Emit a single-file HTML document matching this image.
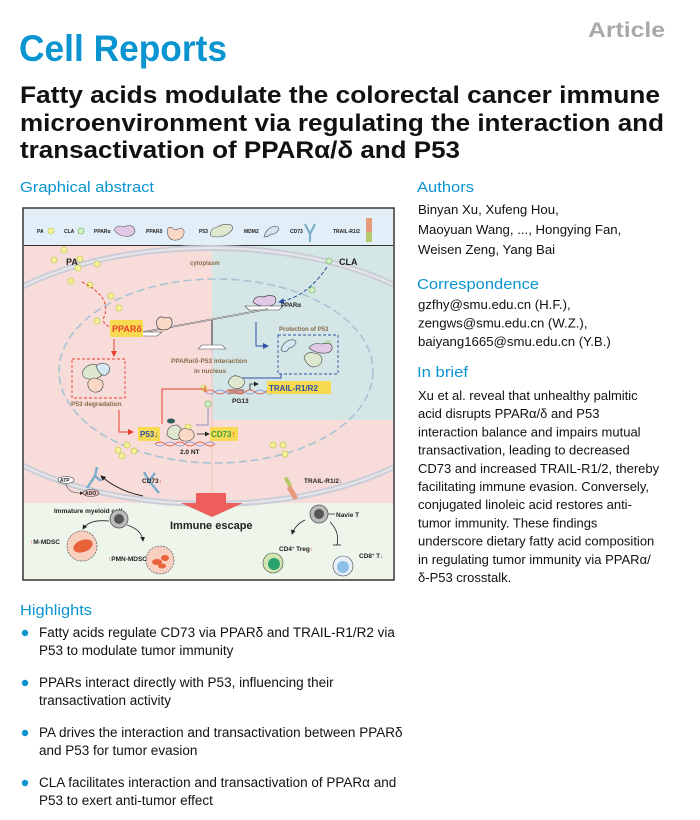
<!DOCTYPE html>
<html><head><meta charset="utf-8"><style>
html,body{margin:0;padding:0;background:#fff;}
svg{display:block;font-family:"Liberation Sans",Arial,sans-serif;}
</style></head><body>
<svg width="700" height="820" viewBox="0 0 700 820" xmlns="http://www.w3.org/2000/svg">
<defs>
<clipPath id="ga"><rect x="24" y="209" width="369" height="370"/></clipPath>
<marker id="ar" markerWidth="6" markerHeight="6" refX="5" refY="3" orient="auto"><path d="M0,0 L6,3 L0,6 z" fill="#e8402c"/></marker>
<marker id="ab" markerWidth="6" markerHeight="6" refX="5" refY="3" orient="auto"><path d="M0,0 L6,3 L0,6 z" fill="#2d4fa8"/></marker>
<marker id="ak" markerWidth="6" markerHeight="6" refX="5" refY="3" orient="auto"><path d="M0,0 L6,3 L0,6 z" fill="#222"/></marker>
</defs>

<text x="19" y="61" font-size="37" font-weight="bold" fill="#0a94d0" textLength="208" lengthAdjust="spacingAndGlyphs">Cell Reports</text>
<text x="588" y="37" font-size="21" font-weight="bold" fill="#a9a9a9" textLength="77" lengthAdjust="spacingAndGlyphs">Article</text>
<g font-size="24" font-weight="bold" fill="#111">
<text x="20" y="103" textLength="640" lengthAdjust="spacingAndGlyphs">Fatty acids modulate the colorectal cancer immune</text>
<text x="20" y="131" textLength="644" lengthAdjust="spacingAndGlyphs">microenvironment via regulating the interaction and</text>
<text x="20" y="158" textLength="440" lengthAdjust="spacingAndGlyphs">transactivation of PPARα/δ and P53</text>
</g>

<g font-size="15" fill="#0a94d0">
<text x="20" y="192" textLength="134" lengthAdjust="spacingAndGlyphs">Graphical abstract</text>
<text x="417" y="192" textLength="57" lengthAdjust="spacingAndGlyphs">Authors</text>
<text x="417" y="289" textLength="122" lengthAdjust="spacingAndGlyphs">Correspondence</text>
<text x="417" y="377" textLength="51" lengthAdjust="spacingAndGlyphs">In brief</text>
<text x="20" y="615" textLength="72" lengthAdjust="spacingAndGlyphs">Highlights</text>
</g>

<g font-size="13.2" fill="#111">
<text x="418" y="214">Binyan Xu, Xufeng Hou,</text>
<text x="418" y="234">Maoyuan Wang, ..., Hongying Fan,</text>
<text x="418" y="254">Weisen Zeng, Yang Bai</text>
<text x="418" y="309">gzfhy@smu.edu.cn (H.F.),</text>
<text x="418" y="327.5">zengws@smu.edu.cn (W.Z.),</text>
<text x="418" y="346">baiyang1665@smu.edu.cn (Y.B.)</text>
</g>
<g font-size="13" fill="#111">
<text x="418" y="400">Xu et al. reveal that unhealthy palmitic</text>
<text x="418" y="418.2">acid disrupts PPARα/δ and P53</text>
<text x="418" y="436.4">interaction balance and impairs mutual</text>
<text x="418" y="454.6">transactivation, leading to decreased</text>
<text x="418" y="472.8">CD73 and increased TRAIL-R1/2, thereby</text>
<text x="418" y="491">facilitating immune evasion. Conversely,</text>
<text x="418" y="509.2">conjugated linoleic acid restores anti-</text>
<text x="418" y="527.4">tumor immunity. These findings</text>
<text x="418" y="545.6">underscore dietary fatty acid composition</text>
<text x="418" y="563.8">in regulating tumor immunity via PPARα/</text>
<text x="418" y="582">δ-P53 crosstalk.</text>
</g>

<g fill="#0a94d0">
<circle cx="25" cy="633" r="3.2"/><circle cx="25" cy="683" r="3.2"/><circle cx="25" cy="733" r="3.2"/><circle cx="25" cy="783" r="3.2"/>
</g>
<g font-size="13.5" fill="#111">
<text x="39" y="637">Fatty acids regulate CD73 via PPARδ and TRAIL-R1/R2 via</text>
<text x="39" y="655">P53 to modulate tumor immunity</text>
<text x="39" y="687">PPARs interact directly with P53, influencing their</text>
<text x="39" y="705">transactivation activity</text>
<text x="39" y="737">PA drives the interaction and transactivation between PPARδ</text>
<text x="39" y="755">and P53 for tumor evasion</text>
<text x="39" y="787">CLA facilitates interaction and transactivation of PPARα and</text>
<text x="39" y="805">P53 to exert anti-tumor effect</text>
</g>

<rect x="23" y="208" width="371" height="372" fill="none" stroke="#333" stroke-width="1.5"/>
<g clip-path="url(#ga)">
<rect x="24" y="209" width="369" height="37" fill="#e2eef8"/>
<line x1="24" y1="245.5" x2="393" y2="245.5" stroke="#333" stroke-width="1"/>
<rect x="24" y="246" width="369" height="258" fill="#f8dcda"/>
<rect x="212" y="246" width="181" height="174" fill="#d4e7e6"/>
<rect x="24" y="503" width="369" height="77" fill="#eef5ea"/>
<ellipse cx="210" cy="376" rx="262" ry="128" fill="none" stroke="#c9cdd8" stroke-width="6"/>
<ellipse cx="210" cy="376" rx="262" ry="128" fill="none" stroke="#e9e6ea" stroke-width="2"/>
<ellipse cx="216" cy="371" rx="157" ry="92" fill="none" stroke="#a8c4d4" stroke-width="1.6" stroke-dasharray="8,4"/>
<line x1="212" y1="340" x2="212" y2="503" stroke="#f0c4c0" stroke-width="1"/>

<g font-size="5" font-weight="bold" fill="#222">
<text x="37" y="233">PA</text><circle cx="51" cy="231" r="3" fill="#f4f29a" stroke="#c9c85a" stroke-width=".8"/>
<text x="64" y="233">CLA</text><circle cx="81" cy="231" r="3" fill="#d4f0c8" stroke="#7bbf6a" stroke-width=".8"/>
<text x="94" y="233">PPARα</text><path d="M114,230 q3,-6 10,-3 q6,-3 9,0 q5,6 -3,9 q-10,2 -16,-6z" fill="#e0c8e6" stroke="#555" stroke-width=".6"/>
<text x="146" y="233">PPARδ</text><path d="M168,228 q4,-2 5,1 q4,1 8,-1 q5,2 2,8 q-3,5 -10,4 q-7,-2 -5,-12z" fill="#f9d8c6" stroke="#555" stroke-width=".6"/>
<text x="199" y="233">P53</text><path d="M211,236 q-2,-7 6,-9 q8,-4 14,-2 q4,3 -2,8 q-8,6 -18,3z" fill="#dde8cf" stroke="#555" stroke-width=".6"/>
<text x="244" y="233">MDM2</text><path d="M264,237 q2,-8 8,-10 q6,-2 7,2 q-3,6 -8,5 q-3,3 -7,3z" fill="#d2e6f4" stroke="#555" stroke-width=".6"/>
<text x="290" y="233">CD73</text><path d="M305,224 l5,10 l5,-10 M310,234 v8" fill="none" stroke="#7aaccc" stroke-width="2"/>
<text x="333" y="233">TRAIL-R1/2</text><rect x="366" y="218" width="6" height="14" fill="#e79a7a"/><rect x="366" y="232" width="6" height="10" fill="#b7c86a"/>
</g>

<g fill="#f4f29a" stroke="#c9c85a" stroke-width=".8">
<circle cx="64" cy="250" r="3"/><circle cx="54" cy="260" r="3"/><circle cx="80" cy="259" r="3"/><circle cx="78" cy="268" r="3"/>
<circle cx="97" cy="264" r="3"/><circle cx="71" cy="281" r="3"/><circle cx="90" cy="285" r="3"/><circle cx="111" cy="296" r="3"/>
<circle cx="119" cy="308" r="3"/><circle cx="97" cy="321" r="3"/><circle cx="163" cy="321" r="3"/>
<circle cx="118" cy="450" r="3"/><circle cx="127" cy="445" r="3"/><circle cx="122" cy="456" r="3"/><circle cx="134" cy="451" r="3"/>
<circle cx="273" cy="445" r="3"/><circle cx="283" cy="445" r="3"/><circle cx="285" cy="454" r="3"/><circle cx="188" cy="427" r="3"/>
<circle cx="204" cy="388" r="3"/>
</g>
<g fill="#d4f0c8" stroke="#7bbf6a" stroke-width=".8">
<circle cx="329" cy="261" r="3"/><circle cx="312" cy="290" r="3"/><circle cx="328" cy="344" r="3"/><circle cx="208" cy="404" r="3"/>
</g>
<g font-weight="bold" fill="#222">
<text x="66" y="265" font-size="9">PA</text>
<text x="339" y="265" font-size="9">CLA</text>
</g>
<text x="190" y="265" font-size="6" font-weight="bold" fill="#8a6a4a">cytoplasm</text>

<path d="M82,282 q30,15 22,35 q-3,10 12,10" fill="none" stroke="#e8402c" stroke-width="1" stroke-dasharray="3,2" marker-end="url(#ar)"/>
<path d="M327,267 q-20,30 -48,35" fill="none" stroke="#2d4fa8" stroke-width="1" stroke-dasharray="4,2" marker-end="url(#ab)"/>

<path d="M253,302 q2,-7 10,-5 q8,-3 12,0 q3,7 -5,9 q-10,2 -17,-4z" fill="#e0c8e6" stroke="#444" stroke-width=".7"/>
<path d="M245,306 h38 l-4,4 h-30z" fill="#fff" stroke="#444" stroke-width=".6"/>
<text x="281" y="307" font-size="6" font-weight="bold" fill="#222">PPARα</text>
<line x1="133" y1="334" x2="268" y2="309" stroke="#555" stroke-width="1.6"/>
<line x1="133" y1="334" x2="268" y2="309" stroke="#fff" stroke-width=".6"/>
<path d="M122,332 h40 l-5,4 h-30z" fill="#fff" stroke="#444" stroke-width=".6"/>
<path d="M157,320 q3,-5 8,-2 q6,-2 7,3 q1,8 -8,9 q-9,0 -7,-10z" fill="#f9d8c6" stroke="#444" stroke-width=".7"/>
<rect x="211" y="320" width="2" height="28" fill="#888"/>
<path d="M198,349 h28 l-4,-4 h-20z" fill="#fff" stroke="#555" stroke-width=".6"/>
<rect x="110" y="320" width="33" height="17" fill="#f7da4f"/>
<text x="112" y="332" font-size="9" font-weight="bold" fill="#e8402c">PPARδ</text>

<path d="M256,322 v24 h12" fill="none" stroke="#2d4fa8" stroke-width="1" marker-end="url(#ab)"/>
<text x="279" y="331" font-size="6" font-weight="bold" fill="#8a6a4a">Protection of P53</text>
<rect x="278" y="335" width="60" height="39" fill="none" stroke="#2d4fa8" stroke-width=".9" stroke-dasharray="3,2"/>
<path d="M281,350 q2,-8 9,-10 q6,-1 6,3 q-3,5 -7,5 q-3,6 -8,2z" fill="#d2e6f4" stroke="#444" stroke-width=".6"/>
<path d="M309,348 q4,-6 12,-4 q9,-2 11,2 q1,6 -6,7 q-10,1 -17,-5z" fill="#e0c8e6" stroke="#444" stroke-width=".6"/>
<path d="M304,358 q2,-7 10,-5 q8,1 8,7 q-1,6 -8,7 q-6,0 -10,-9z" fill="#dde8cf" stroke="#444" stroke-width=".6"/>
<path d="M281,374 v4 h-50" fill="none" stroke="#2d4fa8" stroke-width="1" marker-end="url(#ab)"/>
<text x="171" y="363" font-size="6.5" font-weight="bold" fill="#8a6a4a">PPARα/δ-P53 interaction</text>
<text x="194" y="373" font-size="6.5" font-weight="bold" fill="#8a6a4a">in nucleus</text>

<rect x="72" y="359" width="53" height="39" fill="none" stroke="#e8402c" stroke-width=".9" stroke-dasharray="3,2"/>
<path d="M83,371 q4,-8 14,-6 q8,1 6,9 q-5,6 -14,5 q-8,-1 -6,-8z" fill="#dde8cf" stroke="#444" stroke-width=".6"/>
<path d="M96,366 q6,-5 12,-1 q4,5 -2,10 q-6,2 -10,-9z" fill="#d2e6f4" stroke="#444" stroke-width=".6"/>
<path d="M88,382 q4,-6 10,-3 q6,1 5,7 q-2,7 -9,6 q-7,-2 -6,-10z" fill="#f9d8c6" stroke="#444" stroke-width=".6"/>
<text x="71" y="406" font-size="6.5" font-weight="bold" fill="#8a6a4a">P53 degradation</text>
<path d="M114,339 v17" fill="none" stroke="#e8402c" stroke-width="1" marker-end="url(#ar)"/>
<path d="M119,410 v22 h14" fill="none" stroke="#e8402c" stroke-width="1" marker-end="url(#ar)"/>

<path d="M162,424 v-35 h43" fill="none" stroke="#e8402c" stroke-width="1"/>
<line x1="205" y1="386" x2="205" y2="392" stroke="#e8402c" stroke-width="1"/>
<path d="M208,408 v17 h-12" fill="none" stroke="#8f8ac0" stroke-width="1"/>

<path d="M205,392 q5,-4 10,0 t10,0 t10,0 t10,0 t10,0 t10,0 t10,0" fill="none" stroke="#e8402c" stroke-width=".8"/>
<path d="M205,392 q5,4 10,0 t10,0 t10,0 t10,0 t10,0 t10,0 t10,0" fill="none" stroke="#7a8ad0" stroke-width=".8"/>
<rect x="228" y="389" width="16" height="5" fill="#c87060" opacity=".7"/>
<path d="M228,383 q3,-10 12,-6 q8,3 2,10 q-8,5 -14,-4z" fill="#dde8cf" stroke="#444" stroke-width=".6"/>
<path d="M250,390 v-6 h8" fill="none" stroke="#222" stroke-width=".8" marker-end="url(#ak)"/>
<text x="232" y="403" font-size="6.5" font-weight="bold" fill="#222">PG13</text>
<rect x="267" y="381" width="64" height="13" fill="#f7da4f"/>
<text x="269" y="391" font-size="8" font-weight="bold" fill="#2d4fa8">TRAIL-R1/R2</text>

<path d="M155,444 q5,-4 10,0 t10,0 t10,0 t10,0 t10,0 t10,0" fill="none" stroke="#e8402c" stroke-width=".8"/>
<path d="M155,444 q5,4 10,0 t10,0 t10,0 t10,0 t10,0 t10,0" fill="none" stroke="#7a8ad0" stroke-width=".8"/>
<path d="M167,435 q0,-10 10,-10 q6,3 4,12 q-6,6 -14,-2z" fill="#dde8cf" stroke="#444" stroke-width=".6"/>
<ellipse cx="171" cy="421" rx="4" ry="2.5" fill="#2e5a58"/>
<path d="M179,433 q3,-6 9,-4 q7,1 6,8 q-3,5 -10,4 q-6,-1 -5,-8z" fill="#f9d8c6" stroke="#444" stroke-width=".6"/>
<path d="M197,434 h12" stroke="#222" stroke-width=".8" marker-end="url(#ak)"/>
<text x="180" y="454" font-size="6.5" font-weight="bold" fill="#222">2.0 NT</text>
<rect x="138" y="427" width="22" height="14" fill="#f7da4f"/>
<text x="140" y="437" font-size="8" font-weight="bold" fill="#2d4fa8">P53↓</text>
<rect x="210" y="427" width="28" height="14" fill="#f7da4f"/>
<text x="211" y="437" font-size="8" font-weight="bold" fill="#3aa048">CD73<tspan fill="#e8402c">↑</tspan></text>

<path d="M159,493 l-10,-12 m0,0 l6,-8 m-6,8 l-5,-9" fill="none" stroke="#7aaccc" stroke-width="2.4"/>
<path d="M87,488 l8,-12 l6,5 m-6,-5 l2,-9" fill="none" stroke="#7aaccc" stroke-width="2.4"/>
<path d="M143,496 q-25,-5 -42,-20" fill="none" stroke="#222" stroke-width=".9" marker-end="url(#ak)"/>
<ellipse cx="66" cy="480" rx="8" ry="3.5" fill="#fff" stroke="#333" stroke-width=".6"/>
<text x="60" y="482" font-size="5" font-weight="bold" fill="#222">ATP</text>
<path d="M66,484 q2,10 17,9" fill="none" stroke="#333" stroke-width=".6" marker-end="url(#ak)"/>
<ellipse cx="91" cy="493" rx="8" ry="3.5" fill="#f0c8c8" stroke="#333" stroke-width=".6"/>
<text x="85" y="495" font-size="5" font-weight="bold" fill="#222">ADO<tspan fill="#e8402c">↑</tspan></text>
<text x="142" y="483" font-size="6.5" font-weight="bold" fill="#222">CD73<tspan fill="#e8402c">↑</tspan></text>
<rect x="286" y="477" width="4" height="10" fill="#b7c86a" transform="rotate(-30 288 482)"/>
<rect x="290" y="486" width="5" height="14" fill="#e79a7a" transform="rotate(-30 292 493)"/>
<text x="304" y="483" font-size="6.5" font-weight="bold" fill="#222">TRAIL-R1/2<tspan fill="#2d4fa8">↓</tspan></text>

<path d="M196,493 h30 v10 h17 l-31,14 l-31,-14 h15z" fill="#ee5f5c"/>
<text x="170" y="529" font-size="11" font-weight="bold" fill="#222">Immune escape</text>

<text x="54" y="513" font-size="6.5" font-weight="bold" fill="#222">Immature myeloid cell</text>
<circle cx="119" cy="519" r="9" fill="#bbb" stroke="#555" stroke-width=".8"/><circle cx="119" cy="519" r="5" fill="#555"/>
<path d="M109,521 q-20,-2 -26,8" fill="none" stroke="#222" stroke-width=".8" marker-end="url(#ak)"/>
<path d="M127,525 q15,5 16,16" fill="none" stroke="#222" stroke-width=".8" marker-end="url(#ak)"/>
<circle cx="82" cy="546" r="15" fill="#f9cfc0" stroke="#444" stroke-width=".6" stroke-dasharray="2,1"/>
<ellipse cx="83" cy="546" rx="10" ry="6" fill="#e8623a" transform="rotate(-20 83 546)"/>
<circle cx="160" cy="560" r="14" fill="#f9cfc0" stroke="#444" stroke-width=".6" stroke-dasharray="2,1"/>
<ellipse cx="157" cy="562" rx="5" ry="3" fill="#e8623a"/><ellipse cx="165" cy="558" rx="4" ry="3" fill="#e8623a"/><ellipse cx="162" cy="566" rx="4" ry="2.5" fill="#e8623a"/>
<text x="30" y="544" font-size="6.5" font-weight="bold" fill="#222"><tspan fill="#e8402c">↑</tspan>M-MDSC</text>
<text x="108" y="561" font-size="6.5" font-weight="bold" fill="#222"><tspan fill="#e8402c">↑</tspan>PMN-MDSC</text>
<circle cx="319" cy="514" r="9" fill="#bbb" stroke="#555" stroke-width=".8"/><circle cx="319" cy="514" r="5" fill="#555"/>
<line x1="328" y1="514" x2="335" y2="514" stroke="#222" stroke-width=".7"/>
<text x="336" y="517" font-size="6.5" font-weight="bold" fill="#222">Navie T</text>
<path d="M305,520 q-10,5 -13,14" fill="none" stroke="#222" stroke-width=".8" marker-end="url(#ak)"/>
<path d="M330,522 q10,10 7,23" fill="none" stroke="#222" stroke-width=".8"/><line x1="333" y1="545" x2="341" y2="545" stroke="#222" stroke-width=".8"/>
<circle cx="273" cy="563" r="10" fill="#cfe6b0" stroke="#444" stroke-width=".6"/><circle cx="274" cy="564" r="6" fill="#2aa06a"/>
<text x="279" y="551" font-size="6.5" font-weight="bold" fill="#222">CD4<tspan font-size="4" dy="-2">+</tspan><tspan dy="2"> Treg</tspan><tspan fill="#e8402c">↑</tspan></text>
<circle cx="343" cy="566" r="10" fill="#e6f0f8" stroke="#444" stroke-width=".6"/><circle cx="343" cy="567" r="6" fill="#8dc0e6"/>
<text x="359" y="558" font-size="6.5" font-weight="bold" fill="#222">CD8<tspan font-size="4" dy="-2">+</tspan><tspan dy="2"> T</tspan><tspan fill="#2d4fa8">↓</tspan></text>
</g>
</svg>
</body></html>
